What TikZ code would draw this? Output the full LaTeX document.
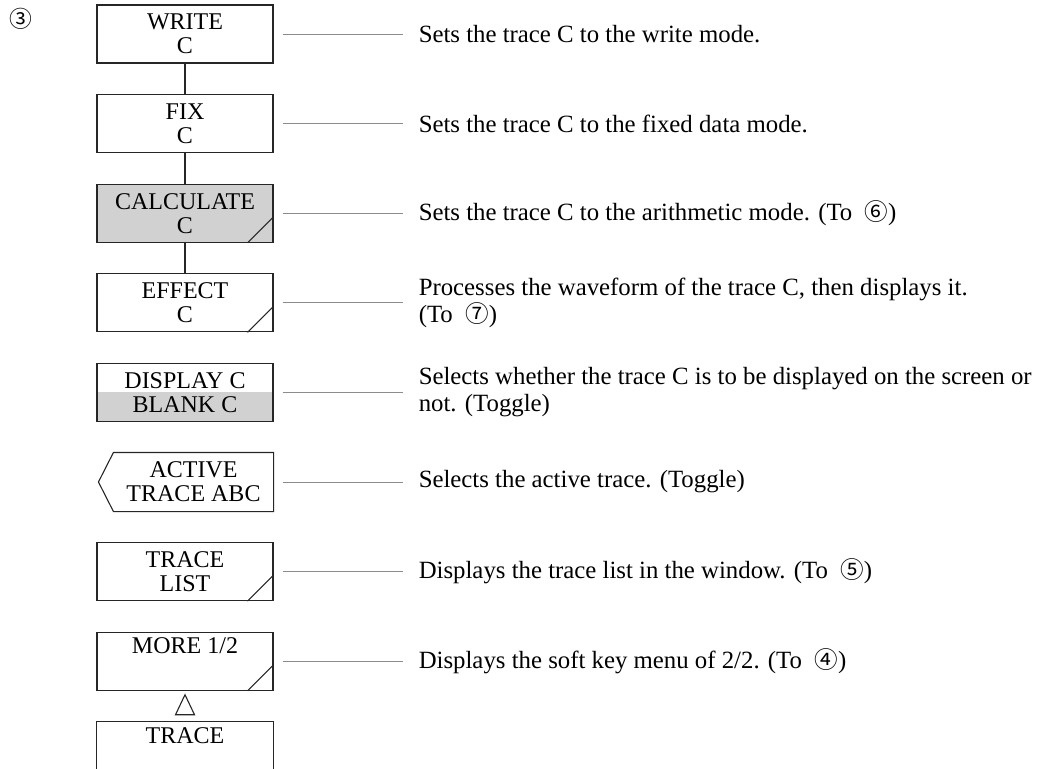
\documentclass[tikz,border=0pt]{standalone}
\usepackage{fontspec}
\setmainfont{Liberation Serif}
\newfontfamily\circfont[Scale=0.95]{Noto Sans CJK SC}
\usepackage{tikz}
\usetikzlibrary{positioning, backgrounds}
\definecolor{keyline}{gray}{0.15}
\definecolor{keyshade}{gray}{0.82}
\definecolor{leadgray}{gray}{0.55}

\begin{document}
\begin{tikzpicture}[
    x=1pt, y=1pt,
    node distance=30.5pt and 145pt,
    key/.style={draw=keyline, line width=1.1pt, minimum width=176pt,
                minimum height=58pt, inner sep=0pt, align=center,
                font=\fontsize{24}{24}\selectfont},
    desc/.style={inner sep=0pt, align=left,
                 font=\fontsize{24.8}{27}\selectfont},
    link/.style={keyline, line width=1.1pt},
    lead/.style={leadgray, line width=0.7pt},
  ]
    \useasboundingbox (0,0) rectangle (1038,-768);
    \clip (0,0) rectangle (1038,-768);

    \node[font=\circfont\fontsize{24}{24}\selectfont] (num) at (21,-19) {③};

    \node[key] (write) at (185,-34) {WRITE\\C};
    \node[key, below=of write] (fix) {FIX\\C};
    \node[key, below=of fix, fill=keyshade] (calc) {CALCULATE\\C};
    \node[key, below=of calc] (effect) {EFFECT\\C};
    \node[key, below=of effect] (disp) {DISPLAY C\\BLANK C};
    \node[key, below=of disp, draw=none, minimum width=159pt, xshift=8.5pt] (act)
      {ACTIVE\\TRACE ABC};
    \node[key, below=of act, xshift=-8.5pt] (tlist) {TRACE\\LIST};
    \node[key, below=of tlist] (more) {MORE 1/2\\\strut};
    \node[key, below=of more, draw=none] (trace) {TRACE\\\strut};

    % toggle key: lower half shaded
    \begin{pgfonlayer}{background}
      \fill[keyshade] (disp.west) rectangle (disp.south east);
    \end{pgfonlayer}

    \draw[link] (act.north east) -- (act.north west) -- ([xshift=-15pt]act.west)
      -- (act.south west) -- (act.south east) -- cycle;
    \draw[link] ([yshift=-70pt]trace.north west) -- (trace.north west)
      -- (trace.north east) -- ++(0,-70);
    \draw[link] ([yshift=-4pt]more.south) -- ++(-9.5,-20) -- ++(19,0) -- cycle;

    \draw[link] (write) -- (fix);
    \draw[link] (fix) -- (calc);
    \draw[link] (calc) -- (effect);

    \foreach \k in {calc, effect, tlist, more}
      \draw[link] ([xshift=-26pt]\k.south east) -- ([yshift=26pt]\k.south east);

    \node[desc, right=of write] (dwrite) {Sets the trace C to the write mode.};
    \node[desc, right=of fix] (dfix) {Sets the trace C to the fixed data mode.};
    \node[desc, right=of calc] (dcalc)
      {Sets the trace C to the arithmetic mode. (To\enspace{\circfont ⑥})};
    \node[desc, right=of effect] (deffect)
      {Processes the waveform of the trace C, then displays it.\\(To\enspace{\circfont ⑦})};
    \node[desc, right=of disp] (ddisp)
      {Selects whether the trace C is to be displayed on the screen or\\not. (Toggle)};
    \node[desc, right=of act] (dact) {Selects the active trace. (Toggle)};
    \node[desc, right=of tlist] (dtlist)
      {Displays the trace list in the window. (To\enspace{\circfont ⑤})};
    \node[desc, right=of more] (dmore)
      {Displays the soft key menu of 2/2. (To\enspace{\circfont ④})};

    \foreach \k in {write, fix, calc, effect, disp, act, tlist, more}
      \draw[lead] ([xshift=9pt]\k.east) -- ([xshift=-16pt]d\k.west);
\end{tikzpicture}
\end{document}
